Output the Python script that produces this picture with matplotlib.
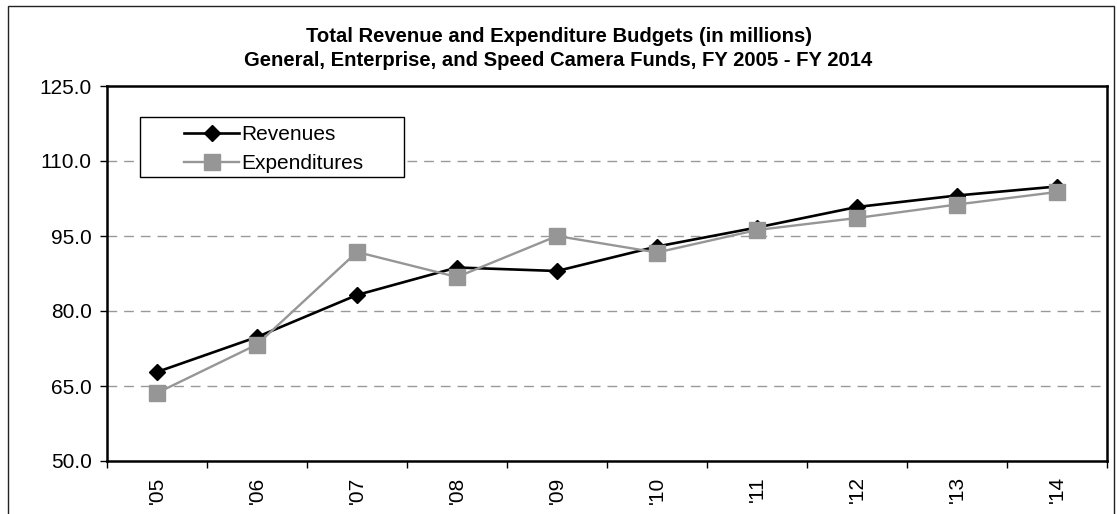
import matplotlib
matplotlib.use("Agg")
import matplotlib.pyplot as plt
from matplotlib.patches import Rectangle
import numpy as np

plt.rcParams['font.family'] = ['Liberation Sans', 'DejaVu Sans']

# FY labels and budget values (in millions)
years = ["'05", "'06", "'07", "'08", "'09", "'10", "'11", "'12", "'13", "'14"]
revenues = [67.8, 74.8, 83.2, 88.7, 88.0, 92.9, 96.7, 100.8, 103.1, 104.9]
expenditures = [63.6, 73.3, 91.8, 86.8, 95.0, 91.7, 96.2, 98.6, 101.3, 103.8]
y_ticks = [50.0, 65.0, 80.0, 95.0, 110.0, 125.0]

W, H = 1117, 514
fig = plt.figure(figsize=(W / 100, H / 100), dpi=100)
ax = fig.add_axes([107 / W, 1 - 461 / H, 1000 / W, 375 / H])

x = np.arange(len(years))
ax.plot(x, revenues, color='black', lw=1.9, marker='D', ms=8.5,
        mfc='black', mec='black', label='Revenues', zorder=3)
ax.plot(x, expenditures, color='#969696', lw=1.7, marker='s', ms=12,
        mfc='#969696', mec='#969696', label='Expenditures', zorder=4)

ax.set_xlim(-0.5, len(years) - 0.5)
ax.set_ylim(50, 125)
ax.set_yticks(y_ticks)
ax.set_yticklabels([f'{v:.1f}' for v in y_ticks], fontsize=15)

# ticks between categories, labels at the centers
ax.set_xticks(np.arange(-0.5, len(years), 1.0))
ax.set_xticklabels([])
ax.set_xticks(x, minor=True)
ax.set_xticklabels(years, minor=True, rotation=90, fontsize=15)
ax.tick_params(axis='x', which='major', length=5, width=1, direction='out')
ax.tick_params(axis='x', which='minor', length=0, pad=11)
ax.tick_params(axis='y', length=5, width=1, pad=6)

for g in y_ticks[1:-1]:
    ax.axhline(g, color='#999999', lw=1, ls=(0, (7, 5)), zorder=1)

for s in ax.spines.values():
    s.set_linewidth(1.8)
    s.set_color('black')

fig.text(0.5, 1 - 41.7 / H, 'Total Revenue and Expenditure Budgets (in millions)',
         ha='center', va='baseline', fontsize=14.6, fontweight='bold')
fig.text(0.5, 1 - 65.7 / H, 'General, Enterprise, and Speed Camera Funds, FY 2005 - FY 2014',
         ha='center', va='baseline', fontsize=14.6, fontweight='bold')

# legend box drawn separately
fig.patches.append(Rectangle((140 / W, 1 - 177 / H), 264 / W, 60 / H,
                             transform=fig.transFigure, fill=True, fc='white',
                             ec='black', lw=1, zorder=5))
leg = fig.legend(loc='upper left', bbox_to_anchor=(174 / W, 1 - 115 / H),
                 frameon=False, fontsize=15, handlelength=2.6,
                 handletextpad=0.12, borderpad=0, labelspacing=0.45)
leg.set_zorder(6)

# outer chart frame
fig.patches.append(Rectangle((8 / W, -0.05), 1106 / W, 1.05 - 6 / H,
                             transform=fig.transFigure, fill=False,
                             ec='#222222', lw=1))

fig.savefig('out.png', dpi=100)
